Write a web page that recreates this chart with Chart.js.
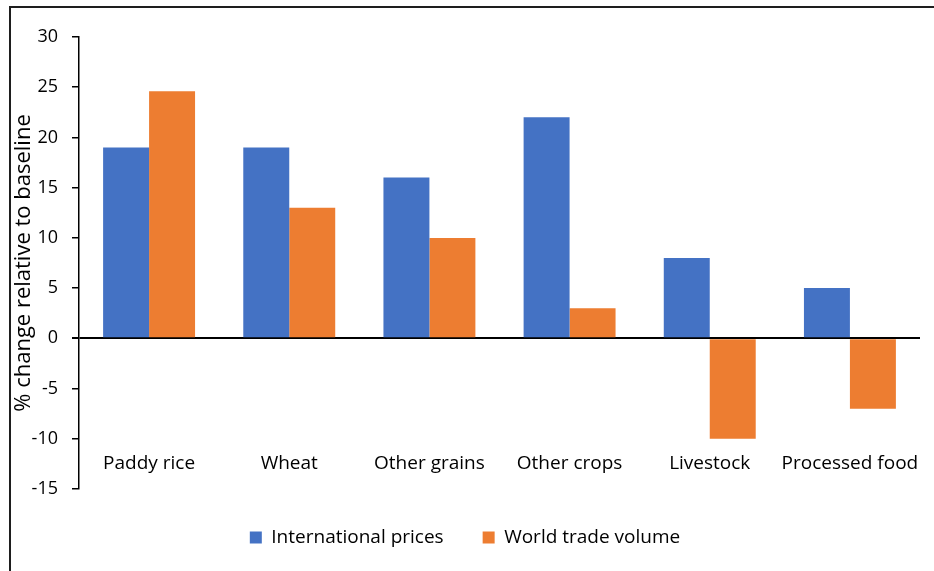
<!DOCTYPE html>
<html>
<head>
<meta charset="utf-8">
<script src="https://cdn.jsdelivr.net/npm/chart.js@4.4.1/dist/chart.umd.min.js"></script>
<style>
    html, body { margin: 0; padding: 0; background: #fff; }
    #wrap { position: relative; width: 934px; height: 571px; overflow: hidden; }
    #frame {
        position: absolute; left: 9px; top: 6px; width: 2000px; height: 2000px;
        border-left: 2px solid #1e1e1e; border-top: 2px solid #1e1e1e;
        pointer-events: none;
    }
</style>
</head>
<body>
<div id="wrap">
    <canvas id="chart" width="934" height="571"></canvas>
    <div id="frame"></div>
</div>
<script>
    // Data
    const categories = ['Paddy rice', 'Wheat', 'Other grains', 'Other crops', 'Livestock', 'Processed food'];
    const intlPrices = [19, 19, 16, 22, 8, 5];
    const tradeVolume = [24.6, 13, 10, 3, -10, -7];
    const yMin = -15, yMax = 30, yStep = 5;

    const blue = '#4472C4';
    const orange = '#ED7D31';

    Chart.defaults.font.family = '"Open Sans", Lato, sans-serif';
    Chart.defaults.color = '#000';

    const ctx = document.getElementById('chart').getContext('2d');
    new Chart(ctx, {
        type: 'bar',
        data: {
            labels: categories,
            datasets: [
                { label: 'International prices', data: intlPrices, backgroundColor: blue },
                { label: 'World trade volume', data: tradeVolume, backgroundColor: orange }
            ]
        },
        options: {
            responsive: false,
            animation: false,
            devicePixelRatio: 1,
            categoryPercentage: 0.656,
            barPercentage: 1.0,
            layout: { padding: { left: 10, top: 37, right: 14, bottom: 14 } },
            plugins: {
                tooltip: { enabled: false },
                legend: {
                    position: 'bottom',
                    labels: {
                        boxWidth: 12, boxHeight: 12, padding: 39,
                        font: { size: 19 }, color: '#000'
                    }
                }
            },
            scales: {
                x: {
                    position: { y: -10 },
                    grid: { display: false },
                    border: { display: false },
                    ticks: { padding: 5, font: { size: 19 }, color: '#000', maxRotation: 0 }
                },
                y: {
                    min: yMin, max: yMax,
                    z: 1,
                    afterFit: s => { s.width = 69; },
                    ticks: { stepSize: yStep, padding: 14, font: { size: 18 }, color: '#000' },
                    grid: {
                        drawOnChartArea: true,
                        tickLength: 7,
                        tickColor: '#000',
                        color: c => (c.tick && c.tick.value === 0) ? '#000' : 'rgba(0,0,0,0)',
                        lineWidth: c => (c.tick && c.tick.value === 0) ? 2 : 1.5
                    },
                    border: { display: true, color: '#000', width: 1.5 },
                    title: {
                        display: true,
                        text: '% change relative to baseline',
                        font: { size: 22 }, color: '#000',
                        padding: { top: 1, bottom: 0 }
                    }
                }
            }
        }
    });
</script>
</body>
</html>
